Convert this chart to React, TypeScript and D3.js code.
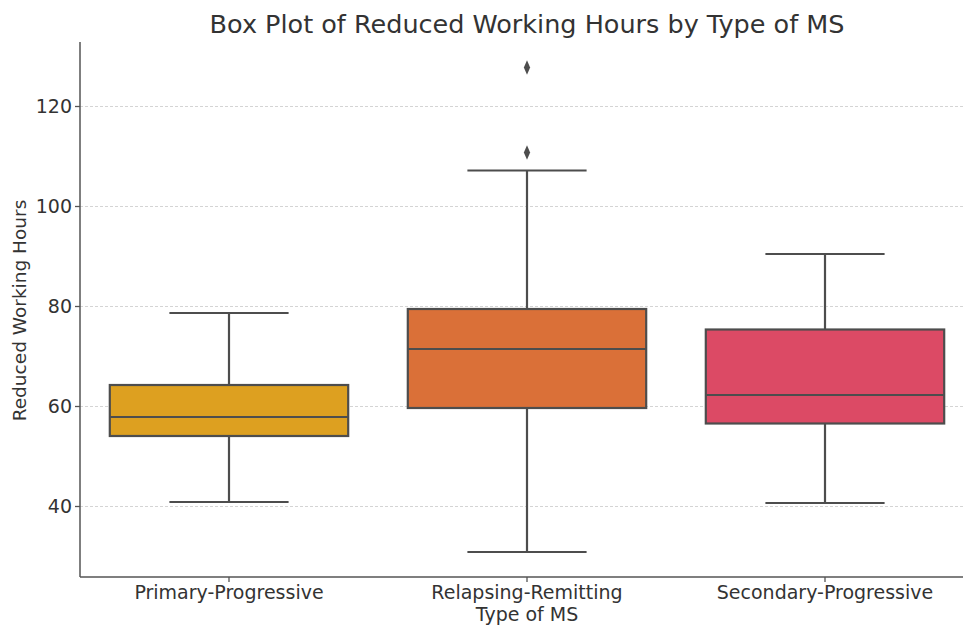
import React from "react";
import * as d3 from "d3";

const categories = ["Primary-Progressive", "Relapsing-Remitting", "Secondary-Progressive"];
const whiskerLow = [40.9, 30.9, 40.7];
const q1 = [54.1, 59.7, 56.6];
const median = [57.9, 71.5, 62.3];
const q3 = [64.3, 79.5, 75.4];
const whiskerHigh = [78.7, 107.2, 90.5];
const outliers: number[][] = [[], [127.8, 110.8], []];
const colors = ["#DDA020", "#DA7038", "#DC4A65"];
const yTicks = [40, 60, 80, 100, 120];

export default function App() {
  const W = 963, H = 625;
  const left = 80, right = 974, top = 42, bottom = 577;
  const x = d3.scaleBand<string>().domain(categories).range([left, right]).paddingInner(0).paddingOuter(0);
  const y = d3.scaleLinear().domain([25.9, 132.9]).range([bottom, top]);
  const bw = x.bandwidth() * 0.8;
  const line = "#4d4d4d";
  const font = "DejaVu Sans, sans-serif";
  const textColor = "#333";
  const diamond = d3.symbol().type(d3.symbolDiamond).size(60)();
  return (
    <svg width={W} height={H} style={{ position: "absolute", left: 0, top: 0 }} fontFamily={font}>
      <rect width={W} height={H} fill="#fff" />
      {yTicks.map((t) => (
        <g key={t}>
          <line x1={left} x2={right} y1={y(t)} y2={y(t)} stroke="#d4d4d4" strokeWidth={1} strokeDasharray="3,2" />
          <line x1={left - 5} x2={left} y1={y(t)} y2={y(t)} stroke="#555" strokeWidth={1.3} />
          <text x={left - 8} y={y(t)} dy="0.35em" textAnchor="end" fontSize={19} fill={textColor}>{t}</text>
        </g>
      ))}
      {categories.map((c, i) => {
        const cx = x(c)! + x.bandwidth() / 2;
        const capW = bw / 2;
        return (
          <g key={c}>
            <line x1={cx} x2={cx} y1={y(q3[i])} y2={y(whiskerHigh[i])} stroke={line} strokeWidth={2.2} />
            <line x1={cx} x2={cx} y1={y(q1[i])} y2={y(whiskerLow[i])} stroke={line} strokeWidth={2.2} />
            <line x1={cx - capW / 2} x2={cx + capW / 2} y1={y(whiskerHigh[i])} y2={y(whiskerHigh[i])} stroke={line} strokeWidth={2.2} />
            <line x1={cx - capW / 2} x2={cx + capW / 2} y1={y(whiskerLow[i])} y2={y(whiskerLow[i])} stroke={line} strokeWidth={2.2} />
            <rect x={cx - bw / 2} y={y(q3[i])} width={bw} height={y(q1[i]) - y(q3[i])} fill={colors[i]} stroke={line} strokeWidth={2.2} />
            <line x1={cx - bw / 2} x2={cx + bw / 2} y1={y(median[i])} y2={y(median[i])} stroke={line} strokeWidth={2.2} />
            {outliers[i].map((o, j) => (
              <path key={j} d={diamond!} transform={`translate(${cx},${y(o)}) scale(0.75,1)`} fill={line} />
            ))}
            <line x1={cx} x2={cx} y1={bottom} y2={bottom + 5} stroke="#555" strokeWidth={1.3} />
            <text x={cx} y={bottom + 22} textAnchor="middle" fontSize={19} fill={textColor}>{c}</text>
          </g>
        );
      })}
      <line x1={left} x2={left} y1={top} y2={bottom} stroke="#555" strokeWidth={1.5} />
      <line x1={left} x2={right} y1={bottom} y2={bottom} stroke="#555" strokeWidth={1.5} />
      <text x={(left + right) / 2} y={bottom + 44} textAnchor="middle" fontSize={19} fill={textColor}>Type of MS</text>
      <text transform={`translate(26,${(top + bottom) / 2 + 1}) rotate(-90)`} textAnchor="middle" fontSize={18.5} fill={textColor}>Reduced Working Hours</text>
      <text x={(left + right) / 2} y={33} textAnchor="middle" fontSize={25.5} fill={textColor}>Box Plot of Reduced Working Hours by Type of MS</text>
    </svg>
  );
}
